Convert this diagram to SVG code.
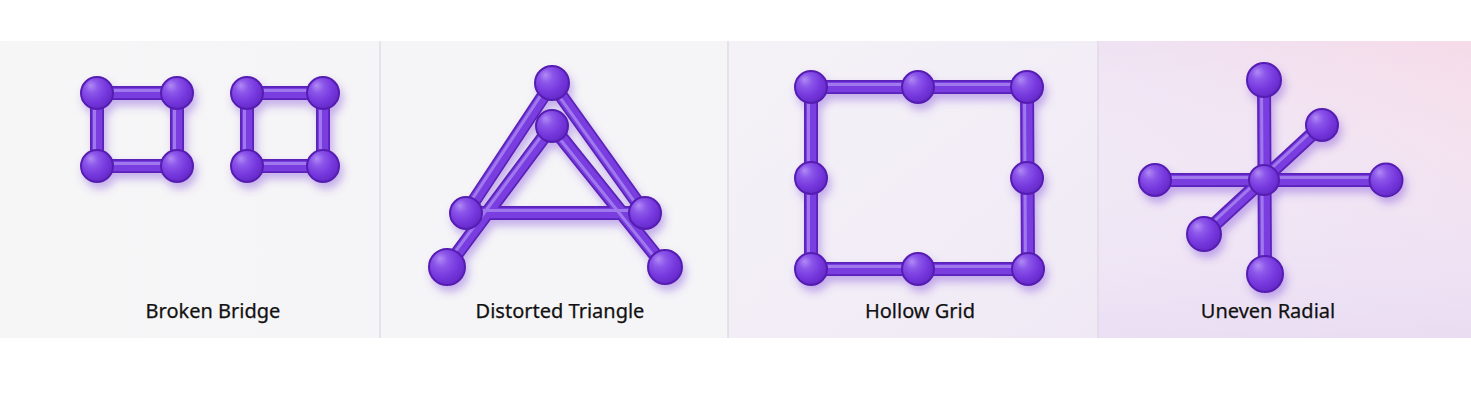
<svg xmlns="http://www.w3.org/2000/svg" width="1471" height="401" viewBox="0 0 1471 401">
<defs>
<radialGradient id="ng" cx="0.4" cy="0.38" r="0.68" fx="0.3" fy="0.26">
<stop offset="0" stop-color="#b08af4"/>
<stop offset="0.3" stop-color="#8c56ea"/>
<stop offset="0.65" stop-color="#7638de"/>
<stop offset="1" stop-color="#6127c4"/>
</radialGradient>
<linearGradient id="bg1" x1="0" y1="0" x2="1" y2="0">
<stop offset="0" stop-color="#f6f6f7"/>
<stop offset="1" stop-color="#f5f4f6"/>
</linearGradient>
<linearGradient id="bg3" x1="0" y1="0" x2="1" y2="1">
<stop offset="0" stop-color="#f4f2f7"/>
<stop offset="1" stop-color="#f0e9f5"/>
</linearGradient>
<linearGradient id="bg4" x1="0" y1="1" x2="1" y2="0">
<stop offset="0" stop-color="#f1eaf6"/>
<stop offset="0.5" stop-color="#efe3f3"/>
<stop offset="1" stop-color="#f6dbe9"/>
</linearGradient>
<linearGradient id="bg4b" x1="0" y1="0" x2="0" y2="1">
<stop offset="0" stop-color="#ffffff" stop-opacity="0"/>
<stop offset="1" stop-color="#e6d8f2" stop-opacity="0.6"/>
</linearGradient>
<filter id="sh" x="-20%" y="-20%" width="145%" height="150%">
<feGaussianBlur in="SourceAlpha" stdDeviation="4" result="b"/>
<feOffset in="b" dx="3" dy="6" result="o"/>
<feFlood flood-color="#7b45d8" flood-opacity="0.4"/>
<feComposite in2="o" operator="in" result="s"/>
<feMerge><feMergeNode in="s"/><feMergeNode in="SourceGraphic"/></feMerge>
</filter>
<style>
.rim{stroke:#5a22b8;stroke-width:14;stroke-linecap:round;fill:none}
.body{stroke:#7a3de0;stroke-width:10.5;stroke-linecap:round;fill:none}
.hl{stroke:#a47ef0;stroke-width:3;stroke-linecap:round;fill:none;opacity:0.9}
.node{fill:url(#ng);stroke:#561fb2;stroke-width:2}
.lbl{font-family:"Noto Sans","Open Sans","DejaVu Sans",sans-serif;font-size:20px;fill:#111111;text-anchor:middle;stroke:#111111;stroke-width:0.25}
.div{stroke:#ddd5e2;stroke-width:1.2}
</style>
</defs>

<rect x="0" y="0" width="1471" height="401" fill="#ffffff"/>
<g id="panels">
<rect x="0" y="41" width="380" height="297" fill="url(#bg1)"/>
<rect x="380" y="41" width="348" height="297" fill="#f5f5f7"/>
<rect x="728" y="41" width="370" height="297" fill="url(#bg3)"/>
<rect x="1098" y="41" width="373" height="297" fill="url(#bg4)"/>
<rect x="1098" y="41" width="373" height="297" fill="url(#bg4b)"/>
<line class="div" x1="380" y1="41" x2="380" y2="338"/>
<line class="div" x1="728" y1="41" x2="728" y2="338"/>
<line class="div" x1="1098" y1="41" x2="1098" y2="338"/>
</g>

<!-- Panel 1: Broken Bridge -->
<g id="broken-bridge" filter="url(#sh)">
<g id="bb-connectors">
<path class="rim" d="M97 93H177V166H97Z M247 93H323V166H247Z"/>
<path class="body" d="M97 93H177V166H97Z M247 93H323V166H247Z"/>
<path class="hl" d="M97 90.5H177 M174.5 93V166 M97 163.5H177 M94.5 93V166 M247 90.5H323 M320.5 93V166 M247 163.5H323 M244.5 93V166"/>
</g>
<g id="bb-a1"><circle class="node" cx="97" cy="93" r="16"/></g>
<g id="bb-a2"><circle class="node" cx="177" cy="93" r="16"/></g>
<g id="bb-a3"><circle class="node" cx="97" cy="166" r="16"/></g>
<g id="bb-a4"><circle class="node" cx="177" cy="166" r="16"/></g>
<g id="bb-b1"><circle class="node" cx="247" cy="93" r="16"/></g>
<g id="bb-b2"><circle class="node" cx="323" cy="93" r="16"/></g>
<g id="bb-b3"><circle class="node" cx="247" cy="166" r="16"/></g>
<g id="bb-b4"><circle class="node" cx="323" cy="166" r="16"/></g>
</g>
<text class="lbl" x="213" y="318">Broken Bridge</text>

<!-- Panel 2: Distorted Triangle -->
<g id="distorted-triangle" filter="url(#sh)">
<g id="dt-connectors">
<path class="rim" d="M552 83L466 213 M552 83L645 213 M552 126L447 267 M552 126L665 267 M466 213H645"/>
<path class="body" d="M552 83L466 213 M552 83L645 213 M552 126L447 267 M552 126L665 267 M466 213H645"/>
<path class="hl" d="M549.9 81.6L463.9 211.6 M550.4 84.1L643.4 214.1 M550 124.5L445 265.5 M550.5 127.2L663.5 268.2 M466 210.5H645"/>
</g>
<g id="dt-top"><circle class="node" cx="552" cy="83" r="17"/></g>
<g id="dt-inner-top"><circle class="node" cx="552" cy="126" r="16"/></g>
<g id="dt-left"><circle class="node" cx="466" cy="213" r="16"/></g>
<g id="dt-right"><circle class="node" cx="645" cy="213" r="16"/></g>
<g id="dt-bottom-left"><circle class="node" cx="447" cy="267" r="18"/></g>
<g id="dt-bottom-right"><circle class="node" cx="665" cy="267" r="17"/></g>
</g>
<text class="lbl" x="560" y="318">Distorted Triangle</text>

<!-- Panel 3: Hollow Grid -->
<g id="hollow-grid" filter="url(#sh)">
<g id="hg-connectors">
<path class="rim" d="M811 87H1027L1028 269H811Z"/>
<path class="body" d="M811 87H1027L1028 269H811Z"/>
<path class="hl" d="M811 84.5H1027 M1024.5 87L1025.5 269 M811 266.5H1028 M808.5 87V269"/>
</g>
<g id="hg-n1"><circle class="node" cx="811" cy="87" r="16"/></g>
<g id="hg-n2"><circle class="node" cx="918" cy="87" r="16"/></g>
<g id="hg-n3"><circle class="node" cx="1027" cy="87" r="16"/></g>
<g id="hg-n4"><circle class="node" cx="811" cy="178" r="16"/></g>
<g id="hg-n5"><circle class="node" cx="1027" cy="178" r="16"/></g>
<g id="hg-n6"><circle class="node" cx="811" cy="269" r="16"/></g>
<g id="hg-n7"><circle class="node" cx="918" cy="269" r="16"/></g>
<g id="hg-n8"><circle class="node" cx="1028" cy="269" r="16"/></g>
</g>
<text class="lbl" x="920" y="318">Hollow Grid</text>

<!-- Panel 4: Uneven Radial -->
<g id="uneven-radial" filter="url(#sh)">
<g id="ur-connectors">
<path class="rim" d="M1264 80L1265 274 M1155 180H1386 M1204 234L1322 125"/>
<path class="body" d="M1264 80L1265 274 M1155 180H1386 M1204 234L1322 125"/>
<path class="hl" d="M1261.5 80L1262.5 274 M1155 177.5H1386 M1202.3 232.2L1320.3 123.2"/>
</g>
<g id="ur-top"><circle class="node" cx="1264" cy="80" r="17"/></g>
<g id="ur-upper-right"><circle class="node" cx="1322" cy="125" r="16"/></g>
<g id="ur-left"><circle class="node" cx="1155" cy="180" r="16"/></g>
<g id="ur-right"><circle class="node" cx="1386" cy="180" r="16.5"/></g>
<g id="ur-lower-left"><circle class="node" cx="1204" cy="234" r="17"/></g>
<g id="ur-bottom"><circle class="node" cx="1265" cy="274" r="18"/></g>
<g id="ur-center"><circle class="node" cx="1264" cy="180" r="15"/></g>
</g>
<text class="lbl" x="1268" y="318">Uneven Radial</text>
</svg>
